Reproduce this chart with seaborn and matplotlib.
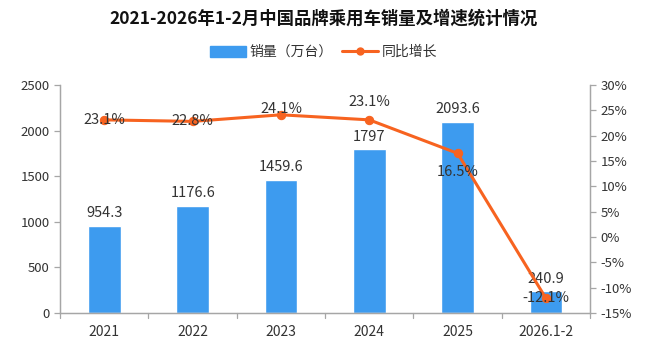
import matplotlib
matplotlib.use("Agg")
import matplotlib.pyplot as plt
import seaborn as sns
import pandas as pd
import numpy as np

categories = ["2021", "2022", "2023", "2024", "2025", "2026.1-2"]
sales = [954.3, 1176.6, 1459.6, 1797, 2093.6, 240.9]
sales_labels = ["954.3", "1176.6", "1459.6", "1797", "2093.6", "240.9"]
growth = [23.1, 22.8, 24.1, 23.1, 16.5, -12.1]
growth_labels = ["23.1%", "22.8%", "24.1%", "23.1%", "16.5%", "-12.1%"]

sns.set_style("white")
plt.rcParams['font.family'] = ['Noto Sans CJK SC', 'DejaVu Sans']

BAR = "#3D9BEF"
LINE = "#F76320"
TXT = "#333333"
GRAY = "#A6A6A6"

df = pd.DataFrame({"cat": categories, "sales": sales, "growth": growth, "x": range(len(categories))})

fig = plt.figure(figsize=(6.47, 3.43), dpi=100)
ax = fig.add_axes([0.093, 0.0875, 0.819, 0.665])
sns.barplot(data=df, x="cat", y="sales", color=BAR, width=0.37, ax=ax, saturation=1, zorder=2)
ax.set_ylim(0, 2500)
ax.set_xlim(-0.5, 5.5)
ax.set_yticks(range(0, 2501, 500))
ax.set_xlabel("")
ax.set_ylabel("")

ax2 = ax.twinx()
sns.lineplot(data=df, x="x", y="growth", color=LINE, linewidth=2.2, marker="o",
             markersize=6, markeredgecolor=LINE, ax=ax2, zorder=3)
ax2.set_ylim(-15, 30)
ax2.set_yticks(range(-15, 31, 5))
ax2.set_yticklabels([f"{v}%" for v in range(-15, 31, 5)])
ax2.set_xlim(-0.5, 5.5)
ax2.set_ylabel("")

for a in (ax, ax2):
    a.spines["top"].set_visible(False)
    for s in ["left", "right", "bottom"]:
        a.spines[s].set_color(GRAY)
        a.spines[s].set_linewidth(0.9)
    a.tick_params(colors=TXT, labelsize=9.5, length=4, width=0.9, color=GRAY)

ax.set_xticks(range(6))
ax.set_xticklabels(categories)
ax.tick_params(axis="x", length=0, pad=9, labelsize=10)
for b in np.arange(-0.5, 5.6, 1.0):
    ax.plot([b, b], [0, -60], color=GRAY, lw=0.9, clip_on=False, zorder=1)

# bar labels
for i, (v, l) in enumerate(zip(sales, sales_labels)):
    ax.text(i, v + 60, l, ha="center", va="bottom", fontsize=10.5, color=TXT, zorder=5)

# growth labels
offsets = [0, 0, 1.2, 3.6, -3.6, 0]
for i, (v, l) in enumerate(zip(growth, growth_labels)):
    ax2.text(i, v + offsets[i], l, ha="center", va="center", fontsize=10.5, color=TXT, zorder=5)

fig.text(0.5, 0.945, "2021-2026年1-2月中国品牌乘用车销量及增速统计情况", ha="center", va="center",
         fontsize=12.5, fontweight="bold", color="#111111")

from matplotlib.patches import Patch
from matplotlib.lines import Line2D
handles = [Patch(color=BAR, label="销量（万台）"),
           Line2D([0], [0], color=LINE, lw=2.2, marker="o", markersize=5, label="同比增长")]
fig.legend(handles=handles, loc="center", bbox_to_anchor=(0.5, 0.848), ncol=2, frameon=False,
           fontsize=10, handlelength=2.6, handleheight=0.9, columnspacing=0.6, handletextpad=0.3,
           labelcolor=TXT)

fig.savefig("out.png", dpi=100)
